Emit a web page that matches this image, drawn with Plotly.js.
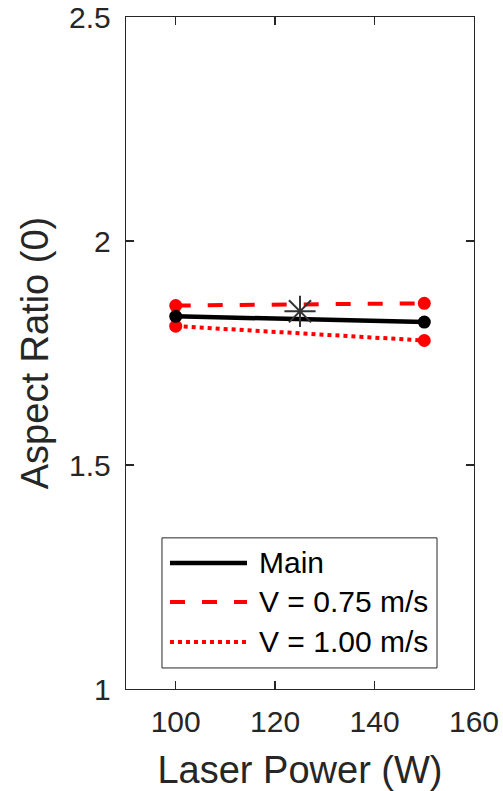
<!DOCTYPE html>
<html>
<head>
<meta charset="utf-8">
<script src="https://cdn.plot.ly/plotly-3.0.1.min.js"></script>
<style>html,body{margin:0;padding:0;background:#fff;}#chart{width:503px;height:791px;}</style>
</head>
<body>
<div id="chart"></div>
<script>
// Data
const power = [100, 150];
const mainAR = [1.832, 1.819];
const v075AR = [1.856, 1.861];
const v100AR = [1.810, 1.778];
const centerPower = [125];
const centerAR = [1.843];
const legendLabels = ['Main', 'V = 0.75 m/s', 'V = 1.00 m/s'];
const xTicks = [100, 120, 140, 160];
const yTicks = [1, 1.5, 2, 2.5];
const yTickText = ['1', '1.5', '2', '2.5'];

const FONT = '"Liberation Sans", Arial, sans-serif';
const TXT = '#262626';

const traces = [
  {x: power, y: v075AR, mode: 'lines+markers', showlegend: false,
   line: {color: '#ff0000', width: 4, dash: '15px,17px'},
   marker: {color: '#ff0000', size: 13}},
  {x: power, y: v100AR, mode: 'lines+markers', showlegend: false,
   line: {color: '#ff0000', width: 4, dash: '4px,4px'},
   marker: {color: '#ff0000', size: 13}},
  {x: power, y: mainAR, mode: 'lines+markers', showlegend: false,
   line: {color: '#000000', width: 4.5},
   marker: {color: '#000000', size: 13}},
  {x: centerPower, y: centerAR, mode: 'markers', showlegend: false,
   marker: {symbol: 'asterisk-open', size: 26, color: '#333333', line: {color: '#333333', width: 2}}}
];

// custom legend (paper coordinates)
const lx0 = 0.1034, lx1 = 0.8937, ly0 = 0.0313, ly1 = 0.2249;
const rowY = [0.1876, 0.1296, 0.0700];
const sx0 = 0.1264, sx1 = 0.3477, tx = 0.3764;
const styles = [
  {color: '#000000', width: 4.5, dash: 'solid'},
  {color: '#ff0000', width: 4, dash: '15px,17px'},
  {color: '#ff0000', width: 4, dash: '4px,4px'}
];
const shapes = [{type: 'rect', xref: 'paper', yref: 'paper', x0: lx0, x1: lx1, y0: ly0, y1: ly1,
  line: {color: '#262626', width: 1}, fillcolor: '#ffffff', layer: 'above'}];
const annotations = [];
legendLabels.forEach((lab, i) => {
  shapes.push({type: 'line', xref: 'paper', yref: 'paper', x0: sx0, x1: sx1, y0: rowY[i], y1: rowY[i],
    line: styles[i], layer: 'above'});
  annotations.push({xref: 'paper', yref: 'paper', x: tx, y: rowY[i], text: lab, showarrow: false,
    xanchor: 'left', yanchor: 'middle', font: {family: FONT, size: 30, color: '#000'}});
});

const layout = {
  width: 503, height: 791,
  margin: {l: 126, r: 29, t: 17, b: 102},
  paper_bgcolor: '#fff', plot_bgcolor: '#fff',
  font: {family: FONT, color: TXT, size: 31},
  xaxis: {range: [90, 160.0001], tickvals: xTicks, ticktext: xTicks.map(String),
    ticks: 'inside', ticklen: 8, tickwidth: 1.3, tickcolor: TXT,
    showline: true, linecolor: TXT, linewidth: 1.3, mirror: 'ticks',
    showgrid: false, zeroline: false, ticklabelstandoff: 6,
    tickfont: {family: FONT, size: 30, color: TXT},
    title: {text: 'Laser Power (W)', font: {family: FONT, size: 38, color: TXT}, standoff: 20}},
  yaxis: {range: [1, 2.5001], tickvals: yTicks, ticktext: yTickText,
    ticks: 'inside', ticklen: 8, tickwidth: 1.3, tickcolor: TXT,
    showline: true, linecolor: TXT, linewidth: 1.3, mirror: 'ticks',
    showgrid: false, zeroline: false, ticklabelstandoff: 8,
    tickfont: {family: FONT, size: 30, color: TXT},
    title: {text: 'Aspect Ratio (0)', font: {family: FONT, size: 38, color: TXT}, standoff: 8}},
  shapes: shapes,
  annotations: annotations,
  showlegend: false
};

Plotly.newPlot('chart', traces, layout, {displayModeBar: false, staticPlot: true});
</script>
</body>
</html>
